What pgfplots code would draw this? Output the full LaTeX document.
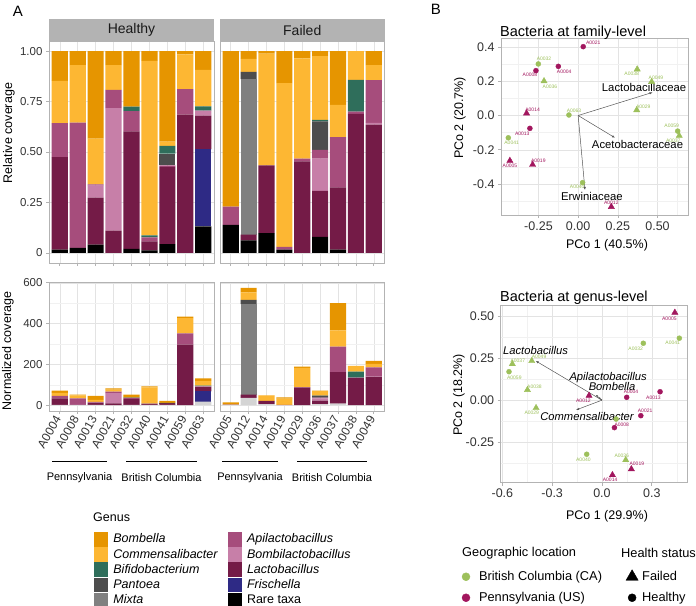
\documentclass[border=0pt]{standalone}
\usepackage{fontspec}
\setmainfont{Liberation Sans}
\usepackage{pgfplots}
\pgfplotsset{compat=1.18}
\usepackage{pgfplotstable}
\usetikzlibrary{arrows.meta}

\definecolor{cBom}{HTML}{E69500}
\definecolor{cCom}{HTML}{FDB733}
\definecolor{cBif}{HTML}{2F6E5B}
\definecolor{cPan}{HTML}{4D4D4D}
\definecolor{cMix}{HTML}{808080}
\definecolor{cApi}{HTML}{A64D7C}
\definecolor{cBil}{HTML}{C77FA8}
\definecolor{cLac}{HTML}{741B47}
\definecolor{cFri}{HTML}{2E2A85}
\definecolor{cRare}{HTML}{000000}
\definecolor{cRareN}{HTML}{D4D4D4}
\definecolor{bc}{HTML}{9DC05B}
\definecolor{pa}{HTML}{A2165E}
\definecolor{strip}{HTML}{B3B3B3}
\definecolor{frame}{HTML}{B3B3B3}
\definecolor{gmaj}{HTML}{E3E3E3}
\definecolor{gmin}{HTML}{F1F1F1}
\definecolor{tickc}{HTML}{333333}
\definecolor{arrowc}{HTML}{555555}

\newcommand\fs[1]{\fontsize{#1}{#1}\selectfont}
\tikzset{lbl/.style={font=\fs{5bp}}}

% relative coverage (Healthy / Failed)
\pgfplotstableread{
x id    Rare  Fri   Lac   Bil   Api   Mix   Pan   Bif   Com   Bom
1 A0004 0.016 0     0.459 0     0.168 0     0     0     0.209 0.148
2 A0008 0.025 0     0     0     0.621 0     0     0     0.285 0.069
3 A0013 0.041 0     0.233 0.059 0.006 0     0     0     0.227 0.434
4 A0021 0     0     0.111 0.607 0.090 0     0     0     0.123 0.069
5 A0032 0.020 0     0.582 0     0.100 0     0     0.023 0     0.275
6 A0040 0.013 0     0.044 0     0.020 0     0     0.010 0.864 0.049
7 A0041 0.044 0     0.382 0     0.008 0     0.058 0.038 0.022 0.448
8 A0059 0     0     0.685 0     0.126 0     0     0     0.173 0.016
9 A0063 0.131 0.382 0.167 0.025 0     0     0     0.021 0.181 0.093
}\hrel
\pgfplotstableread{
x id    Rare  Fri   Lac   Bil   Api   Mix   Pan   Bif   Com   Bom
1 A0005 0.139 0     0     0     0.090 0     0     0     0     0.771
2 A0012 0.062 0     0.028 0     0     0.771 0.036 0     0.065 0.038
3 A0014 0.098 0     0.336 0     0     0     0     0     0.553 0.013
4 A0019 0.016 0     0     0     0.014 0     0     0     0.811 0.159
5 A0029 0     0     0.454 0     0.013 0     0     0     0.497 0.036
6 A0036 0.079 0     0.229 0.159 0.044 0     0.141 0.007 0.316 0.025
7 A0037 0.016 0     0.309 0     0.249 0     0     0     0.160 0.266
8 A0038 0     0     0.689 0     0.011 0     0     0.157 0.143 0
9 A0049 0     0     0.636 0.008 0.212 0     0     0     0.074 0.070
}\frel
% normalized coverage
\pgfplotstableread{
x id    Rare Fri  Lac   Bil  Api  Mix Pan Bif Com  Bom
1 A0004 1.1  0    32.6  0    11.9 0   0   0   14.8 10.5
2 A0008 1.3  0    0     0    31.7 0   0   0   14.5 3.5
3 A0013 1.9  0    10.7  2.7  0.3  0   0   0   10.4 20.0
4 A0021 0    0    9.1   49.8 7.4  0   0   0   10.1 5.7
5 A0032 1.0  0    29.7  0    5.1  0   0   1.2 0    14.0
6 A0040 1.2  0    4.0   0    1.8  0   0   0.9 79.5 4.5
7 A0041 0.9  0    8.0   0    0.2  0   1.2 0.8 0.5  9.4
8 A0059 0    0    297.3 0    54.7 0   0   0   75.1 6.9
9 A0063 17.2 50.0 21.9  3.3  0    0   0   2.8 23.7 12.2
}\hnorm
\pgfplotstableread{
x id    Rare Fri  Lac   Bil  Api   Mix   Pan  Bif  Com  Bom
1 A0005 1.8  0    0     0    1.2   0     0    0    0    10.0
2 A0012 35.7 0    16.1  0    0     443.3 20.7 0    37.4 21.9
3 A0014 4.7  0    16.1  0    0     0     0    0    26.5 0.6
4 A0019 0.6  0    0     0    0.5   0     0    0    30.8 6.0
5 A0029 0    0    85.8  0    2.5   0     0    0    93.9 6.8
6 A0036 5.6  0    16.3  11.3 3.1   0     10.0 0.5  22.4 1.8
7 A0037 8.0  0    154.5 0    124.5 0     0    0    80.0 133.0
8 A0038 0    0    132.3 0    2.1   0     0    30.1 27.5 0
9 A0049 0    0    138.0 1.7  46.0  0     0    0    16.1 15.2
}\fnorm

\newcommand\stackbars[2]{%
  \addplot[fill=#2,draw=none] table[x=x,y=Rare]{#1};
  \addplot[fill=cFri,draw=none] table[x=x,y=Fri]{#1};
  \addplot[fill=cLac,draw=none] table[x=x,y=Lac]{#1};
  \addplot[fill=cBil,draw=none] table[x=x,y=Bil]{#1};
  \addplot[fill=cApi,draw=none] table[x=x,y=Api]{#1};
  \addplot[fill=cMix,draw=none] table[x=x,y=Mix]{#1};
  \addplot[fill=cPan,draw=none] table[x=x,y=Pan]{#1};
  \addplot[fill=cBif,draw=none] table[x=x,y=Bif]{#1};
  \addplot[fill=cCom,draw=none] table[x=x,y=Com]{#1};
  \addplot[fill=cBom,draw=none] table[x=x,y=Bom]{#1};
}

\pgfplotsset{
  panel/.style={scale only axis, enlargelimits=false,
    axis line style={draw=frame, line width=0.6bp},
    tick style={draw=frame, line width=0.6bp},
    major tick length=3bp, minor tick length=0pt, tick align=outside, tick pos=left,
    major grid style={draw=gmaj, line width=0.5bp},
    minor grid style={draw=gmin, line width=0.35bp},
    tick label style={text=tickc}},
  barpanel/.style={panel, width=165bp, xmin=0.4, xmax=9.6, xtick={1,...,9},
    xmajorgrids, ymajorgrids, ybar stacked, bar width=0.9,
    tick label style={font=\fs{11.5bp}}},
  relpanel/.style={barpanel, height=222bp, ymin=-0.05, ymax=1.05,
    ytick={0,0.25,0.5,0.75,1}, yticklabels={0,0.25,0.50,0.75,1.00}, xticklabels={}},
  normpanel/.style={barpanel, height=129bp, ymin=-28.75, ymax=603.75,
    ytick={0,200,400,600}, yticklabels={0,200,400,600}, minor ytick={100,300,500}, yminorgrids,
    xticklabel style={font=\fs{12bp}, rotate=60, anchor=east}},
  pcoa/.style={panel, xmajorgrids, ymajorgrids, xminorgrids, yminorgrids,
    tick label style={font=\fs{12.5bp}}},
}

\begin{document}
\begin{tikzpicture}
\path[use as bounding box] (0,0) rectangle (696bp,-606bp);

% ---- panel A, relative coverage
\begin{axis}[relpanel, at={(49bp,-263bp)}, anchor=south west]
\stackbars{\hrel}{cRare}
\end{axis}
\begin{axis}[relpanel, at={(220bp,-263bp)}, anchor=south west, width=164.5bp,
  yticklabels={}, ytick style={draw=none}]
\stackbars{\frel}{cRare}
\end{axis}

% ---- panel A, normalized coverage
\begin{axis}[normpanel, at={(49bp,-411bp)}, anchor=south west,
  xticklabels={A0004,A0008,A0013,A0021,A0032,A0040,A0041,A0059,A0063}]
\stackbars{\hnorm}{cRareN}
\end{axis}
\begin{axis}[normpanel, at={(220bp,-411bp)}, anchor=south west, width=164.5bp,
  yticklabels={}, ytick style={draw=none},
  xticklabels={A0005,A0012,A0014,A0019,A0029,A0036,A0037,A0038,A0049}]
\stackbars{\fnorm}{cRareN}
\end{axis}

% ---- panel B, family level
\begin{axis}[pcoa, at={(501bp,-215bp)}, anchor=south west, width=187bp, height=177bp,
  xmin=-0.486, xmax=0.692, ymin=-0.581, ymax=0.4526,
  xtick={-0.25,0,0.25,0.5}, xticklabels={-0.25,0.00,0.25,0.50},
  minor xtick={-0.375,-0.125,0.125,0.375,0.625},
  ytick={-0.4,-0.2,0,0.2,0.4}, yticklabels={-0.4,-0.2,0.0,0.2,0.4},
  minor ytick={-0.5,-0.3,-0.1,0.1,0.3}]
\begin{scope}[lbl, text=bc]
\node at (axis cs:-0.215,0.33) {A0032};
\node at (axis cs:-0.178,0.168) {A0036};
\node at (axis cs:0.337,0.242) {A0038};
\node at (axis cs:0.49,0.221) {A0049};
\node at (axis cs:-0.026,0.028) {A0063};
\node at (axis cs:0.41,0.051) {A0029};
\node at (axis cs:-0.419,-0.159) {A0041};
\node at (axis cs:0.589,-0.061) {A0059};
\node at (axis cs:0.599,-0.147) {A0037};
\node at (axis cs:-0.006,-0.416) {A0040};
\end{scope}
\begin{scope}[lbl, text=pa]
\node at (axis cs:0.095,0.422) {A0021};
\node at (axis cs:-0.304,0.238) {A0008};
\node at (axis cs:-0.088,0.258) {A0004};
\node at (axis cs:-0.287,0.036) {A0014};
\node at (axis cs:-0.352,-0.104) {A0013};
\node at (axis cs:-0.43,-0.295) {A0005};
\node at (axis cs:-0.251,-0.266) {A0019};
\node at (axis cs:0.209,-0.509) {A0012};
\end{scope}
\addplot[only marks, mark=*, mark size=2.5bp, color=bc] coordinates
  {(-0.251,0.301) (0.028,-0.392) (-0.44,-0.13) (0.627,-0.091) (-0.058,0.003)};
\addplot[only marks, mark=triangle*, mark size=3.6bp, color=bc] coordinates
  {(0.369,0.032) (-0.215,0.201) (0.637,-0.118) (0.372,0.270) (0.463,0.197)};
\addplot[only marks, mark=*, mark size=2.5bp, color=pa] coordinates
  {(-0.125,0.287) (-0.266,0.262) (-0.304,-0.075) (0.032,0.402)};
\addplot[only marks, mark=triangle*, mark size=3.6bp, color=pa] coordinates
  {(-0.43,-0.264) (0.209,-0.533) (-0.325,0.013) (-0.287,-0.287)};
\addplot[arrowc, line width=0.5bp, -{Latex[length=3bp,width=2.4bp]}] coordinates {(0,0) (0.469,0.135)};
\addplot[arrowc, line width=0.5bp, -{Latex[length=3bp,width=2.4bp]}] coordinates {(0,0) (0.232,-0.13)};
\addplot[arrowc, line width=0.5bp, -{Latex[length=3bp,width=2.4bp]}] coordinates {(0,0) (0.043,-0.435)};
\node[font=\fs{11.3bp}] at (axis cs:0.415,0.166) {Lactobacillaceae};
\node[font=\fs{11.3bp}] at (axis cs:0.374,-0.171) {Acetobacteraceae};
\node[font=\fs{11.3bp}] at (axis cs:0.087,-0.47) {Erwiniaceae};
\end{axis}

% ---- panel B, genus level
\begin{axis}[pcoa, at={(500.7bp,-482.7bp)}, anchor=south west, width=186.6bp, height=177.7bp,
  xmin=-0.61, xmax=0.514, ymin=-0.49, ymax=0.565,
  xtick={-0.6,-0.3,0,0.3}, xticklabels={-0.6,-0.3,0.0,0.3},
  minor xtick={-0.45,-0.15,0.15,0.45},
  ytick={-0.25,0,0.25,0.5}, yticklabels={-0.25,0.00,0.25,0.50},
  minor ytick={-0.375,-0.125,0.125,0.375}]
\begin{scope}[lbl, text=bc]
\node at (axis cs:0.426,0.341) {A0041};
\node at (axis cs:0.203,0.308) {A0032};
\node at (axis cs:-0.507,0.235) {A0037};
\node at (axis cs:-0.379,0.258) {A0049};
\node at (axis cs:-0.528,0.13) {A0059};
\node at (axis cs:-0.407,0.08) {A0038};
\node at (axis cs:-0.423,-0.074) {A0029};
\node at (axis cs:-0.112,-0.351) {A0040};
\node at (axis cs:0.119,-0.33) {A0036};
\end{scope}
\begin{scope}[lbl, text=pa]
\node at (axis cs:0.406,0.486) {A0005};
\node at (axis cs:-0.112,-0.003) {A0012};
\node at (axis cs:0.175,0.047) {A0004};
\node at (axis cs:0.31,0.017) {A0013};
\node at (axis cs:0.26,-0.064) {A0021};
\node at (axis cs:0.119,-0.145) {A0008};
\node at (axis cs:0.21,-0.379) {A0019};
\node at (axis cs:0.049,-0.474) {A0014};
\end{scope}
\addplot[only marks, mark=*, mark size=2.5bp, color=bc] coordinates
  {(0.249,0.338) (-0.092,-0.321) (0.466,0.368) (-0.56,0.169) (0.085,-0.112)};
\addplot[only marks, mark=triangle*, mark size=3.6bp, color=bc] coordinates
  {(-0.397,-0.046) (0.143,-0.355) (-0.54,0.215) (-0.449,0.061) (-0.423,0.233)};
\addplot[only marks, mark=*, mark size=2.5bp, color=pa] coordinates
  {(0.149,0.017) (0.075,-0.163) (0.35,0.05) (0.234,-0.092)};
\addplot[only marks, mark=triangle*, mark size=3.6bp, color=pa] coordinates
  {(0.439,0.52) (-0.078,0.027) (0.063,-0.444) (0.177,-0.409)};
\addplot[arrowc, line width=0.5bp, -{Latex[length=3bp,width=2.4bp]}] coordinates {(0,0) (-0.399,0.233)};
\addplot[arrowc, line width=0.5bp, -{Latex[length=3bp,width=2.4bp]}] coordinates {(0,0) (-0.156,-0.058)};
\addplot[arrowc, line width=0.5bp, -{Latex[length=2bp,width=2bp]}] coordinates {(0,0) (-0.036,0.031)};
\addplot[arrowc, line width=0.5bp, -{Latex[length=2bp,width=2bp]}] coordinates {(0,0) (-0.022,0.017)};
\node[font=\fs{11.2bp}\itshape] at (axis cs:-0.4,0.293) {Lactobacillus};
\node[font=\fs{11.2bp}\itshape] at (axis cs:0.037,0.136) {Apilactobacillus};
\node[font=\fs{11.2bp}\itshape] at (axis cs:0.061,0.08) {Bombella};
\node[font=\fs{11.2bp}\itshape] at (axis cs:-0.09,-0.094) {Commensalibacter};
\end{axis}

% ---- genus legend
\begin{axis}[hide axis, scale only axis, width=10bp, height=10bp, xmin=0, xmax=1, ymin=0, ymax=1,
  at={(94bp,-532.2bp)}, anchor=north west, legend columns=2, legend cell align=left,
  legend image code/.code={\fill[#1] (0bp,-6.8bp) rectangle (13bp,6.8bp);},
  legend style={at={(0,1)}, anchor=north west, draw=none, fill=none, inner sep=0pt, outer sep=0pt,
    font=\fs{12.5bp}, column sep=6bp, row sep=1.1bp, nodes={inner sep=0pt},
    /tikz/every even column/.append style={column sep=10bp}}]
\addlegendimage{cBom}\addlegendentry{\itshape Bombella}
\addlegendimage{cApi}\addlegendentry{\itshape Apilactobacillus}
\addlegendimage{cCom}\addlegendentry{\itshape Commensalibacter}
\addlegendimage{cBil}\addlegendentry{\itshape Bombilactobacillus}
\addlegendimage{cBif}\addlegendentry{\itshape Bifidobacterium}
\addlegendimage{cLac}\addlegendentry{\itshape Lactobacillus}
\addlegendimage{cPan}\addlegendentry{\itshape Pantoea}
\addlegendimage{cFri}\addlegendentry{\itshape Frischella}
\addlegendimage{cMix}\addlegendentry{\itshape Mixta}
\addlegendimage{cRare}\addlegendentry{Rare taxa}
\end{axis}

% ---- location / status legend
\begin{axis}[hide axis, scale only axis, width=10bp, height=10bp, xmin=0, xmax=1, ymin=0, ymax=1,
  at={(461bp,-569.75bp)}, anchor=north west, legend columns=2, legend cell align=left,
  legend image code/.code={\path[draw=none,fill=none] (0bp,-6bp) rectangle (10bp,6bp);
    \draw[#1] plot coordinates {(5bp,0bp)};},
  legend style={at={(0,1)}, anchor=north west, draw=none, fill=none, inner sep=0pt, outer sep=0pt,
    font=\fs{12.8bp}, column sep=8bp, row sep=9bp, nodes={inner sep=0pt},
    /tikz/every even column/.append style={column sep=24bp},
    /tikz/column 3/.append style={column sep=4bp}}]
\addlegendimage{only marks, mark=*, mark size=4bp, draw=bc, fill=bc, mark options={draw=bc, fill=bc}}
\addlegendentry{British Columbia (CA)}
\addlegendimage{only marks, mark=triangle*, mark size=7bp, draw=black, fill=black, mark options={draw=black, fill=black}}
\addlegendentry{Failed}
\addlegendimage{only marks, mark=*, mark size=4bp, draw=pa, fill=pa, mark options={draw=pa, fill=pa}}
\addlegendentry{Pennsylvania (US)}
\addlegendimage{only marks, mark=*, mark size=4bp, draw=black, fill=black, mark options={draw=black, fill=black}}
\addlegendentry{Healthy}
\end{axis}

% ---- decorations and texts
\begin{scope}[x=1bp, y=-1bp]
\node[font=\fs{15bp}] at (18,11) {A};
\node[font=\fs{15bp}] at (436,9) {B};
\fill[strip] (49,19) rectangle (214,41);
\fill[strip] (220,19) rectangle (384.5,41);
\node[font=\fs{14bp}, text=black!90] at (131.5,30) {Healthy};
\node[font=\fs{14bp}, text=black!90] at (302.25,30) {Failed};
\node[font=\fs{12.5bp}, rotate=90] at (9,133) {Relative coverage};
\node[font=\fs{12.5bp}, rotate=90] at (8,351) {Normalized coverage};
\draw[line width=0.6bp] (52,461) -- (107,461);
\draw[line width=0.6bp] (126,461) -- (197,461);
\draw[line width=0.6bp] (222,461) -- (278,461);
\draw[line width=0.6bp] (297,461) -- (367,461);
\node[font=\fs{11bp}] at (79.5,478) {Pennsylvania};
\node[font=\fs{11bp}] at (161.5,478) {British Columbia};
\node[font=\fs{11bp}] at (250,478) {Pennsylvania};
\node[font=\fs{11bp}] at (332,478) {British Columbia};
\node[font=\fs{14.5bp}, anchor=base west, inner sep=0pt] at (500,36) {Bacteria at family-level};
\node[font=\fs{14.5bp}, anchor=base west, inner sep=0pt] at (500,301) {Bacteria at genus-level};
\node[font=\fs{12.5bp}] at (607,245) {PCo 1 (40.5\%)};
\node[font=\fs{12.5bp}, rotate=90] at (460,118) {PCo 2 (20.7\%)};
\node[font=\fs{12.5bp}] at (607,516) {PCo 1 (29.9\%)};
\node[font=\fs{12.5bp}, rotate=90] at (459,395) {PCo 2 (18.2\%)};
\node[font=\fs{12.5bp}, anchor=west, inner sep=0pt] at (93,516.7) {Genus};
\node[font=\fs{12.8bp}, anchor=west, inner sep=0pt] at (462,553) {Geographic location};
\node[font=\fs{12.8bp}, anchor=west, inner sep=0pt] at (621,553) {Health status};
\end{scope}
\end{tikzpicture}
\end{document}
